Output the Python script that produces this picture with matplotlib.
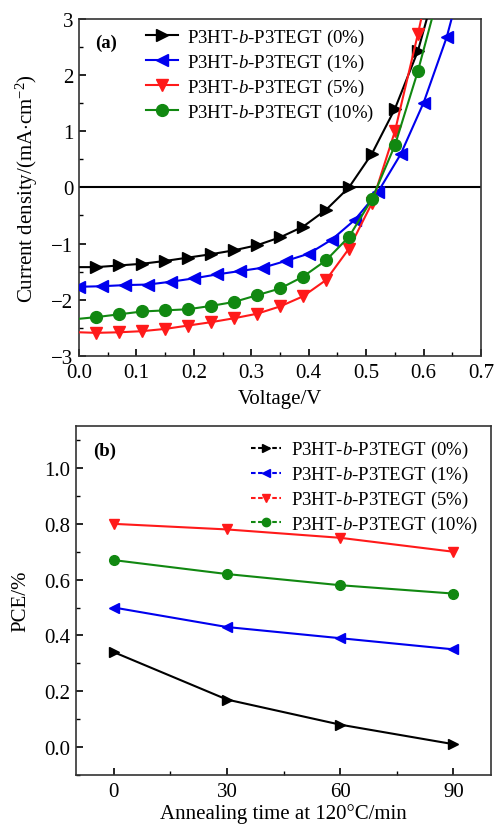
import matplotlib
matplotlib.use("Agg")
import matplotlib.pyplot as plt
from matplotlib.lines import Line2D
from matplotlib.ticker import MultipleLocator

plt.rcParams['font.family'] = ['Liberation Serif', 'DejaVu Serif']
plt.rcParams['mathtext.fontset'] = 'custom'
plt.rcParams['mathtext.rm'] = 'Liberation Serif'
plt.rcParams['mathtext.it'] = 'Liberation Serif:italic'

labels = ["P3HT-$\\mathit{b}$-P3TEGT (0%)", "P3HT-$\\mathit{b}$-P3TEGT (1%)",
          "P3HT-$\\mathit{b}$-P3TEGT (5%)", "P3HT-$\\mathit{b}$-P3TEGT (10%)"]
colors = ["black", "#0000ee", "#ff1a1a", "#118811"]
markers = [">", "<", "v", "o"]

# Panel (a): J-V curves (first point at V=0 has no marker)
v_a = [0.0, 0.03, 0.07, 0.11, 0.15, 0.19, 0.23, 0.27, 0.31, 0.35, 0.39, 0.43, 0.47, 0.51, 0.55, 0.59, 0.63]
v_b = [0.0, 0.0, 0.04, 0.08, 0.12, 0.16, 0.20, 0.24, 0.28, 0.32, 0.36, 0.40, 0.44, 0.48, 0.52, 0.56, 0.60, 0.64, 0.68]
j_0 = [-1.42, -1.42, -1.39, -1.36, -1.31, -1.25, -1.19, -1.12, -1.03, -0.89, -0.70, -0.40, 0.0, 0.60, 1.40, 2.43, 3.9]
j_1 = [-1.77, -1.77, -1.76, -1.74, -1.73, -1.68, -1.62, -1.55, -1.49, -1.43, -1.31, -1.18, -0.93, -0.58, -0.09, 0.59, 1.51, 2.67, 4.2]
j_5 = [-2.58, -2.59, -2.58, -2.56, -2.52, -2.46, -2.40, -2.33, -2.25, -2.12, -1.94, -1.65, -1.09, -0.28, 1.00, 2.73, 4.6]
j_10 = [-2.34, -2.31, -2.26, -2.21, -2.19, -2.17, -2.11, -2.04, -1.92, -1.80, -1.59, -1.30, -0.88, -0.21, 0.75, 2.07, 3.6]

# Panel (b): PCE vs annealing time
t = [0, 30, 60, 90]
pce_0 = [0.34, 0.17, 0.08, 0.01]
pce_1 = [0.50, 0.43, 0.39, 0.35]
pce_5 = [0.80, 0.78, 0.75, 0.70]
pce_10 = [0.67, 0.62, 0.58, 0.55]

fig = plt.figure(figsize=(4.97, 8.28), dpi=100)
ax1 = fig.add_axes([0.159, 0.569, 0.809, 0.407])
ax2 = fig.add_axes([0.153, 0.063, 0.835, 0.421])

ax1.axhline(0, color="black", lw=1.5, zorder=1)
series_a = [(v_a, j_0), (v_b, j_1), (v_a, j_5), (v_a, j_10)]
for (xv, yv), c, m, lab in zip(series_a, colors, markers, labels):
    ax1.plot(xv, yv, color=c, marker=m, markersize=8.5, lw=1.5,
             markevery=slice(1, None), label=lab, zorder=3)
ax1.set_xlim(0, 0.7)
ax1.set_ylim(-3, 3)
ax1.xaxis.set_major_locator(MultipleLocator(0.1))
ax1.xaxis.set_minor_locator(MultipleLocator(0.05))
ax1.yaxis.set_major_locator(MultipleLocator(1))
ax1.yaxis.set_minor_locator(MultipleLocator(0.5))
ax1.set_xlabel("Voltage/V", fontsize=15, labelpad=5)
ax1.set_ylabel("Current density/(mA$\\cdot$cm$^{-2}$)", fontsize=15, labelpad=8)
ax1.legend(loc="upper left", bbox_to_anchor=(0.135, 1.015), frameon=False, fontsize=13.5,
           handlelength=1.7, handletextpad=0.45, labelspacing=0.2, borderaxespad=0.3)
ax1.text(0.04, 0.93, "(a)", transform=ax1.transAxes, fontsize=13.5, fontweight="bold",
         va="center", ha="left")

series_b = [pce_0, pce_1, pce_5, pce_10]
handles = []
for yv, c, m, lab in zip(series_b, colors, markers, labels):
    ax2.plot(t, yv, color=c, marker=m, markersize=7, lw=1.5, zorder=3)
    handles.append(Line2D([], [], color=c, marker=m, markersize=6, lw=1.5,
                          linestyle=(0, (2.2, 1.2)), label=lab))
ax2.set_xlim(-10, 100)
ax2.set_ylim(-0.1, 1.15)
ax2.xaxis.set_major_locator(MultipleLocator(30))
ax2.xaxis.set_minor_locator(MultipleLocator(15))
ax2.yaxis.set_minor_locator(MultipleLocator(0.1))
ax2.set_yticks([0.0, 0.2, 0.4, 0.6, 0.8, 1.0])
ax2.set_yticklabels(["0.0", "0.2", "0.4", "0.6", "0.8", "1.0"])
ax2.set_xlabel("Annealing time at 120°C/min", fontsize=15, labelpad=2)
ax2.set_ylabel("PCE/%", fontsize=15, labelpad=10)
ax2.legend(handles=handles, loc="upper right", frameon=False, fontsize=13.5,
           handlelength=1.6, handletextpad=0.5, labelspacing=0.2, borderaxespad=0.3)
ax2.text(0.04, 0.93, "(b)", transform=ax2.transAxes, fontsize=13.5, fontweight="bold",
         va="center", ha="left")

for ax in (ax1, ax2):
    ax.tick_params(axis="both", which="both", direction="in", top=False, right=False,
                   labelsize=15)
    ax.tick_params(axis="x", pad=5)
    ax.tick_params(axis="y", pad=4)
    ax.tick_params(which="major", length=5, width=1.2)
    ax.tick_params(which="minor", length=3, width=1.0)
    for s in ax.spines.values():
        s.set_linewidth(1.2)
        s.set_color("#333333")

fig.savefig("out.png", dpi=100)
